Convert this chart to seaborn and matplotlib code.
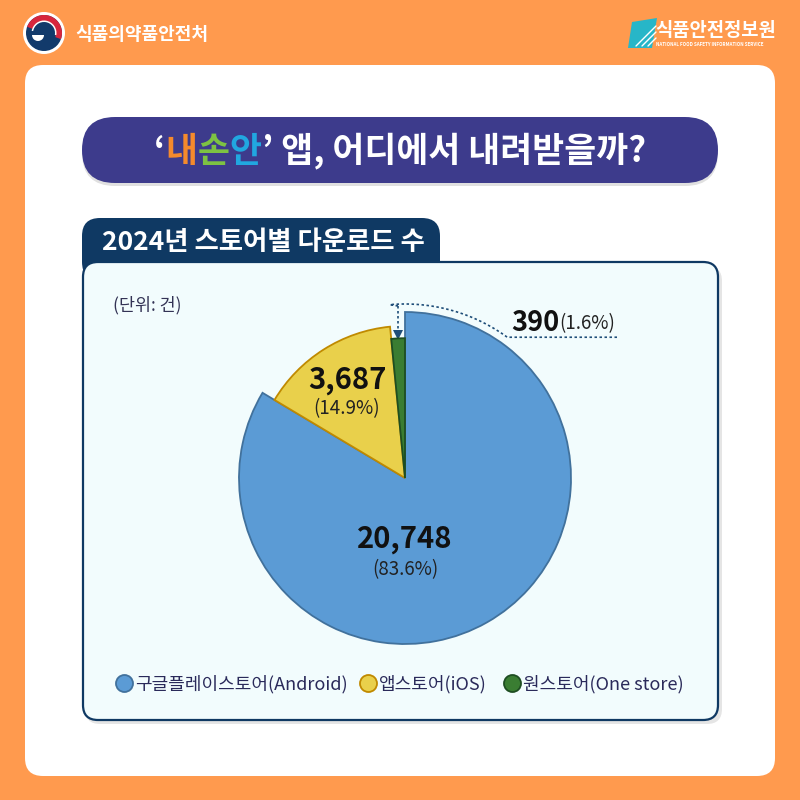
import numpy as np
import pandas as pd
import matplotlib
matplotlib.use("Agg")
import matplotlib.pyplot as plt
import seaborn as sns
from matplotlib.patches import FancyBboxPatch, Circle, Wedge, Polygon
from matplotlib.offsetbox import TextArea, HPacker, AnnotationBbox

sns.set_theme(style="white")
plt.rcParams['font.family'] = ['Noto Sans CJK KR', 'DejaVu Sans']

# data
stores = ["구글플레이스토어(Android)", "앱스토어(iOS)", "원스토어(One store)"]
downloads = [20748, 3687, 390]
store_colors = ["#5B9BD5", "#E9D04B", "#3A7D32"]
edge_colors = ["#41719C", "#C08A00", "#1E4E22"]
radii = [1.0, 0.916, 0.842]

df = pd.DataFrame({"store": stores, "downloads": downloads})
df["pct"] = df["downloads"] / df["downloads"].sum() * 100

ORANGE = "#FF9A4E"
NAVY = "#0F3963"
PILL = "#3D3B8C"
TEXT = "#2A2A5A"

fig = plt.figure(figsize=(8, 8), dpi=100, facecolor=ORANGE)

# background / decoration axes in pixel coords
bg = fig.add_axes([0, 0, 1, 1])
bg.set_xlim(0, 800)
bg.set_ylim(800, 0)
bg.axis("off")

def rbox(x0, y0, x1, y1, r, **kw):
    p = FancyBboxPatch((x0 + r, y0 + r), x1 - x0 - 2 * r, y1 - y0 - 2 * r,
                       boxstyle=f"round,pad={r}", **kw)
    bg.add_patch(p)
    return p

# white panel
rbox(25, 65, 775, 776, 18, facecolor="white", edgecolor="none")

# header left: logo + name
bg.add_patch(Circle((44, 33), 21, facecolor="white", edgecolor="none"))
bg.add_patch(Circle((44, 33), 18, facecolor="#123A6B", edgecolor="none"))
bg.add_patch(Wedge((44, 33), 18, 200, 380, width=6, facecolor="#D7263D", edgecolor="none"))
bg.add_patch(Wedge((44, 33), 12.5, 190, 370, width=1.5, facecolor="white", edgecolor="none"))
bg.add_patch(Wedge((38, 35), 6, 0, 180, facecolor="white", edgecolor="none"))
bg.text(75, 34, "식품의약품안전처", color="white", fontsize=13, fontweight="bold",
        va="center", ha="left")

# header right: logo + name
bg.add_patch(Polygon([(632, 22), (657, 18), (652, 48), (628, 48)],
                     closed=True, facecolor="#27B6C8", edgecolor="none"))
for dx in (0, 6, 12):
    bg.plot([636 + dx, 656], [46, 26 + dx], color="white", lw=1)
bg.text(655, 31, "식품안전정보원", color="white", fontsize=13.5, fontweight="bold",
        va="center", ha="left")
bg.text(656, 45, "NATIONAL FOOD SAFETY INFORMATION SERVICE", color="white",
        fontsize=3.3, fontweight="bold", va="center", ha="left")

# title pill
rbox(82, 120, 718, 186, 33, facecolor="#000000", alpha=0.12, edgecolor="none")
rbox(82, 117, 718, 183, 33, facecolor=PILL, edgecolor="none")
tprops = dict(fontsize=25, fontweight="bold", family=['Noto Sans CJK KR', 'DejaVu Sans'])
parts = [("‘", "white"), ("내", "#F58A2C"), ("손", "#7DC243"), ("안", "#21A7E0"),
         ("’ 앱, 어디에서 내려받을까?", "white")]
pack = HPacker(children=[TextArea(s, textprops=dict(color=c, **tprops)) for s, c in parts],
               sep=0, pad=0, align="baseline")
bg.add_artist(AnnotationBbox(pack, (400, 151), frameon=False, box_alignment=(0.5, 0.5)))

# subtitle tab + chart box
rbox(82, 218, 440, 280, 18, facecolor=NAVY, edgecolor="none")
rbox(85, 266, 722, 724, 15, facecolor="#000000", alpha=0.10, edgecolor="none")
rbox(83, 262, 718, 720, 15, facecolor="#F2FCFD", edgecolor=NAVY, linewidth=1.6)
bg.text(263, 242, "2024년 스토어별 다운로드 수", color="white", fontsize=19,
        fontweight="bold", ha="center", va="center")
bg.text(113, 305, "(단위: 건)", color="#333355", fontsize=12.5, ha="left", va="center")

# pie axes: center (405, 478) px, radius 166 px
cx, cy, R = 405, 478, 166
pax = fig.add_axes([0, 0, 1, 1])
pax.patch.set_alpha(0)
for i in range(len(df)):
    wedges, _ = pax.pie(df["downloads"], radius=radii[i], startangle=90, counterclock=False,
                        colors=store_colors,
                        wedgeprops=dict(edgecolor=edge_colors[i], linewidth=1.3))
    for j, w in enumerate(wedges):
        w.set_visible(j == i)
pax.set_xlim(-cx / R, (800 - cx) / R)
pax.set_ylim(-(800 - cy) / R, cy / R)
pax.axis("off")

# value labels
pax.text(0, -0.37, f"{df.downloads[0]:,}", fontsize=21, fontweight="bold",
         color="#111111", ha="center", va="center")
pax.text(0, -0.55, f"({df.pct[0]:.1f}%)", fontsize=13.5, color="#222222",
         ha="center", va="center")
pax.text(-0.35, 0.59, f"{df.downloads[1]:,}", fontsize=21, fontweight="bold",
         color="#111111", ha="center", va="center")
pax.text(-0.35, 0.42, f"({df.pct[1]:.1f}%)", fontsize=13.5, color="#222222",
         ha="center", va="center")
bg.text(559, 323, f"{df.downloads[2]:,}", fontsize=19.5, fontweight="bold",
        color="#111111", ha="right", va="center")
bg.text(559, 324, f"({df.pct[2]:.1f}%)", fontsize=13.5, color="#222222",
        ha="left", va="center")

# callout line for the small slice
LC = "#1F4E79"
bg.plot([398, 398], [306, 333], color=LC, lw=1.2, ls=(0, (1.5, 1.5)))
theta = np.linspace(np.deg2rad(95), np.deg2rad(54), 40)
ax_x = cx + 174 * np.cos(theta)
ax_y = cy - 174 * np.sin(theta)
bg.plot(np.r_[398, ax_x, 618], np.r_[306, ax_y, ax_y[-1]], color=LC, lw=1.2,
        ls=(0, (1.5, 1.5)))
bg.plot([398], [335], marker="v", markersize=7, color=LC, markeredgewidth=0)

# legend
lx = [124, 368, 512]
for x, name, c, ec in zip(lx, stores, store_colors, edge_colors):
    bg.scatter([x], [683], s=150, color=c, edgecolor=ec, linewidth=1.3, zorder=5)
    bg.text(x + 11, 684, name, color=TEXT, fontsize=13, ha="left", va="center")

fig.savefig("out.png", dpi=100, facecolor=ORANGE)
